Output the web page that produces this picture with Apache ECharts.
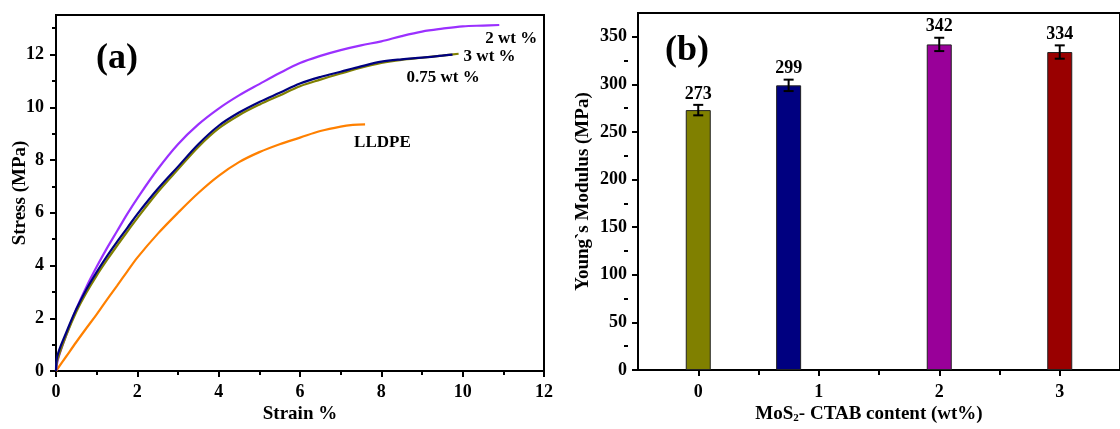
<!DOCTYPE html>
<html><head><meta charset="utf-8">
<script src="https://cdn.jsdelivr.net/npm/echarts@6/dist/echarts.min.js"></script>
<style>html,body{margin:0;padding:0;background:#fff}#c{width:1120px;height:429px}</style>
</head><body><div id="c"></div>
<script>
// ---- Panel (a): stress-strain curves ----
const strain2wt = [0, 0.05, 0.25, 0.5, 0.75, 1, 1.25, 1.5, 1.75, 2, 2.5, 3, 3.5, 4, 4.5, 5, 5.5, 6, 6.5, 7, 7.5, 8, 8.5, 9, 9.5, 10, 10.5, 10.9];
const stress2wt = [0, 0.45, 1.35, 2.35, 3.2, 3.95, 4.65, 5.3, 5.95, 6.55, 7.65, 8.6, 9.35, 9.95, 10.45, 10.88, 11.3, 11.68, 11.95, 12.17, 12.35, 12.5, 12.7, 12.87, 12.98, 13.07, 13.1, 13.12];
const strain3wt = [0, 0.03, 0.25, 0.5, 0.75, 1, 1.25, 1.5, 1.75, 2, 2.5, 3, 3.5, 4, 4.5, 5, 5.5, 6, 6.5, 7, 7.5, 8, 8.5, 9, 9.5, 9.9];
const stress3wt = [0, 0.4, 1.35, 2.25, 2.98, 3.62, 4.2, 4.75, 5.28, 5.8, 6.78, 7.65, 8.5, 9.2, 9.7, 10.1, 10.45, 10.8, 11.05, 11.28, 11.5, 11.68, 11.8, 11.88, 11.96, 12.03];
const strain075wt = [0, 0.03, 0.25, 0.5, 0.75, 1, 1.25, 1.5, 1.75, 2, 2.5, 3, 3.5, 4, 4.5, 5, 5.5, 6, 6.5, 7, 7.5, 8, 8.5, 9, 9.5, 9.75];
const stress075wt = [0, 0.55, 1.45, 2.35, 3.1, 3.75, 4.35, 4.9, 5.42, 5.95, 6.9, 7.75, 8.6, 9.3, 9.8, 10.2, 10.55, 10.9, 11.15, 11.35, 11.55, 11.73, 11.82, 11.88, 11.96, 12.0];
const strainLLDPE = [0, 0.25, 0.5, 0.75, 1, 1.25, 1.5, 1.75, 2, 2.5, 3, 3.5, 4, 4.5, 5, 5.5, 6, 6.5, 7, 7.3, 7.6];
const stressLLDPE = [0, 0.55, 1.1, 1.63, 2.15, 2.7, 3.23, 3.77, 4.3, 5.2, 6.0, 6.75, 7.4, 7.92, 8.3, 8.6, 8.85, 9.1, 9.27, 9.33, 9.35];
const xTicksA = [0, 2, 4, 6, 8, 10, 12];
const yTicksA = [0, 2, 4, 6, 8, 10, 12];
const yMinorA = [1, 3, 5, 7, 9, 11, 13];

// ---- Panel (b): Young's modulus bars ----
const contentB = [0, 0.75, 2, 3];
const modulusB = [273, 299, 342, 334];
const errorB = [5.5, 6, 7, 7];
const xTicksB = [0, 1, 2, 3];
const xMinorB = [0.5, 1.5, 2.5];
const yTicksB = [0, 50, 100, 150, 200, 250, 300, 350];
const yMinorB = [25, 75, 125, 175, 225, 275, 325];

// ---- styles ----
const FONT = '"Liberation Serif", "Times New Roman", serif';
const BAR_COLORS = ['#808000', '#000080', '#990099', '#990000'];
const txt = (size) => ({fontFamily: FONT, fontWeight: 'bold', fontSize: size, color: '#000'});
const blackLine = {color: '#000', width: 2};
const axisLineStyle = {onZero: false, lineStyle: blackLine};
const zip = (xs, ys) => xs.map((x, i) => [x, ys[i]]);

const chart = echarts.init(document.getElementById('c'), null, {renderer: 'canvas'});

function lineSeries(name, xs, ys, color, offset, z) {
  return {
    type: 'line', name: name, xAxisIndex: 0, yAxisIndex: 0,
    data: zip(xs, ys), showSymbol: false, smooth: 0.35, z: z,
    lineStyle: {color: color, width: 2.2}, itemStyle: {color: color},
    endLabel: Object.assign({show: true, formatter: '{a}', offset: offset}, txt(17))
  };
}

const minorAxisCommon = {
  axisLine: {show: false, onZero: false}, axisLabel: {show: false}, splitLine: {show: false}
};

const option = {
  animation: false,
  backgroundColor: '#fff',
  title: [
    {text: '(a)', left: 91, top: 36, textStyle: txt(36)},
    {text: '(b)', left: 660, top: 28, textStyle: txt(36)}
  ],
  grid: [
    {left: 56, top: 15, width: 488, height: 356, show: true, borderColor: '#000', borderWidth: 2},
    {left: 638, top: 13, width: 492, height: 358, show: true, borderColor: '#000', borderWidth: 2}
  ],
  xAxis: [
    {
      gridIndex: 0, type: 'value', min: 0, max: 12, interval: 2,
      name: 'Strain %', nameLocation: 'middle', nameGap: 34, nameMoveOverlap: false, nameTextStyle: txt(19),
      axisLine: axisLineStyle,
      axisTick: {length: 6, lineStyle: blackLine},
      minorTick: {show: true, splitNumber: 2, length: 4, lineStyle: blackLine},
      axisLabel: Object.assign({margin: 12, customValues: xTicksA}, txt(18)),
      splitLine: {show: false}
    },
    {
      gridIndex: 1, type: 'value', min: -0.5, max: 3.5,
      name: 'MoS{sub|2}- CTAB content (wt%)', nameLocation: 'middle', nameGap: 34, nameMoveOverlap: false,
      nameTextStyle: Object.assign({padding: [0, 20, 0, 0], rich: {sub: Object.assign({padding: [9, 0, 0, 0]}, txt(11))}}, txt(19)),
      axisLine: axisLineStyle,
      axisTick: {length: 6, lineStyle: blackLine, customValues: xTicksB},
      axisLabel: Object.assign({margin: 13, customValues: xTicksB}, txt(18)),
      splitLine: {show: false}
    },
    Object.assign({
      gridIndex: 1, type: 'value', min: -0.5, max: 3.5, position: 'top', offset: -358,
      axisTick: {inside: true, length: 4, lineStyle: blackLine, customValues: xMinorB}
    }, minorAxisCommon)
  ],
  yAxis: [
    {
      gridIndex: 0, type: 'value', min: 0, max: 13.5,
      name: 'Stress (MPa)', nameLocation: 'middle', nameGap: 26, nameMoveOverlap: false, nameTextStyle: txt(19),
      axisLine: axisLineStyle,
      axisTick: {length: 6, lineStyle: blackLine, customValues: yTicksA},
      axisLabel: Object.assign({margin: 12, customValues: yTicksA}, txt(18)),
      splitLine: {show: false}
    },
    Object.assign({
      gridIndex: 0, type: 'value', min: 0, max: 13.5, position: 'right', offset: -488,
      axisTick: {inside: true, length: 4, lineStyle: blackLine, customValues: yMinorA}
    }, minorAxisCommon),
    {
      gridIndex: 1, type: 'value', min: 0, max: 375,
      name: 'Young`s Modulus (MPa)', nameLocation: 'middle', nameGap: 45, nameMoveOverlap: false, nameTextStyle: txt(19),
      axisLine: axisLineStyle,
      axisTick: {length: 6, lineStyle: blackLine, customValues: yTicksB},
      axisLabel: Object.assign({margin: 11, customValues: yTicksB}, txt(18)),
      splitLine: {show: false}
    },
    Object.assign({
      gridIndex: 1, type: 'value', min: 0, max: 375, position: 'right', offset: -492,
      axisTick: {inside: true, length: 4, lineStyle: blackLine, customValues: yMinorB}
    }, minorAxisCommon)
  ],
  series: [
    lineSeries('LLDPE', strainLLDPE, stressLLDPE, '#ff8000', [-19, 18], 2),
    lineSeries('2 wt %', strain2wt, stress2wt, '#9b30ff', [-22, 14], 2),
    lineSeries('3 wt %', strain3wt, stress3wt, '#808000', [-3, 3], 2),
    lineSeries('0.75 wt %', strain075wt, stress075wt, '#000080', [-54, 23], 3),
    {
      type: 'bar', xAxisIndex: 1, yAxisIndex: 2, barWidth: 25,
      data: contentB.map((x, i) => ({value: [x, modulusB[i]], itemStyle: {color: BAR_COLORS[i]}})),
      itemStyle: {borderColor: '#222', borderWidth: 1}
    },
    {
      type: 'custom', xAxisIndex: 1, yAxisIndex: 2, z: 5,
      data: contentB.map((x, i) => [x, modulusB[i], errorB[i]]),
      renderItem: function (params, api) {
        const x = api.value(0), y = api.value(1), e = api.value(2);
        const hi = api.coord([x, y + e]), lo = api.coord([x, y - e]);
        const cw = 5, st = {stroke: '#000', lineWidth: 2};
        return {type: 'group', children: [
          {type: 'line', shape: {x1: hi[0], y1: hi[1], x2: lo[0], y2: lo[1]}, style: st},
          {type: 'line', shape: {x1: hi[0] - cw, y1: hi[1], x2: hi[0] + cw, y2: hi[1]}, style: st},
          {type: 'line', shape: {x1: lo[0] - cw, y1: lo[1], x2: lo[0] + cw, y2: lo[1]}, style: st},
          {type: 'text', x: hi[0], y: hi[1] - 2, style: {text: String(y), align: 'center', verticalAlign: 'bottom',
            font: 'bold 18px ' + FONT, fill: '#000'}}
        ]};
      }
    }
  ]
};
chart.setOption(option);
</script></body></html>
